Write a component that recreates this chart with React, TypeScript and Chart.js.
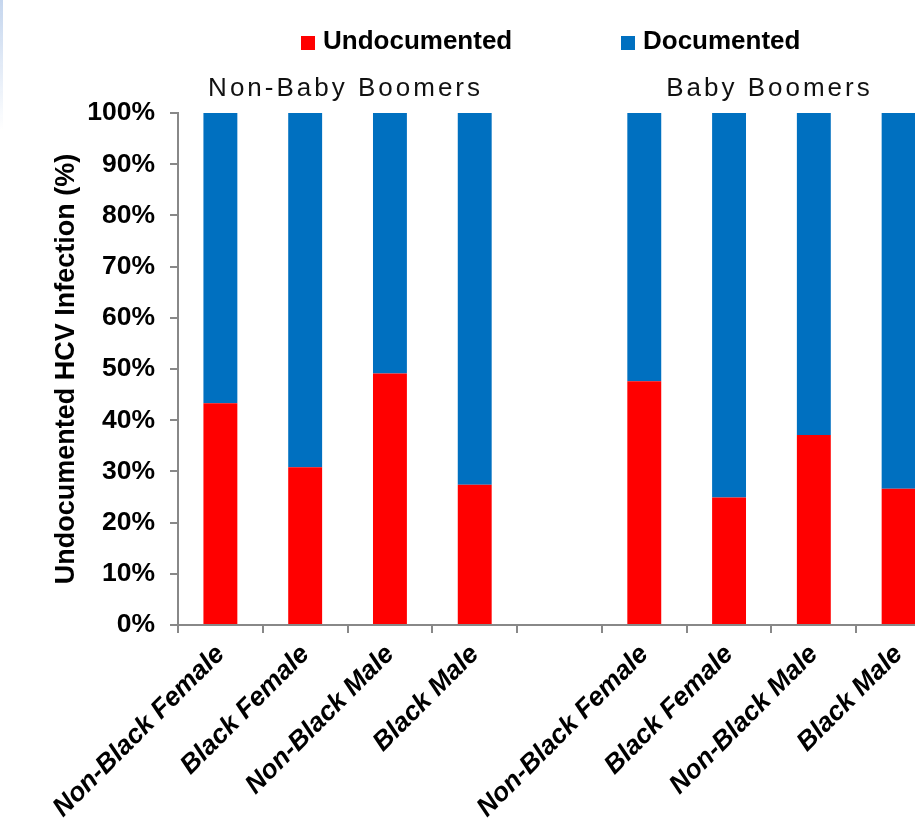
import React, { useEffect, useRef } from "react";
import { Chart, registerables } from "chart.js";

Chart.register(...registerables);

const categories = [
  "Non-Black Female",
  "Black Female",
  "Non-Black Male",
  "Black Male",
  "",
  "Non-Black Female",
  "Black Female",
  "Non-Black Male",
  "Black Male",
];
const undocumented = [43.3, 30.8, 49.1, 27.4, null, 47.6, 24.9, 37.1, 26.6];
const documented = [56.7, 69.2, 50.9, 72.6, null, 52.4, 75.1, 62.9, 73.4];
const seriesNames = ["Undocumented", "Documented"];
const seriesColors = ["#FF0000", "#0070C0"];
const groupNames = ["Non-Baby Boomers", "Baby Boomers"];
const groupMembers = [
  [0, 1, 2, 3],
  [5, 6, 7, 8],
];
const yAxisTitle = "Undocumented HCV Infection (%)";

const FONT = "'Liberation Sans', Arial, sans-serif";

const overlayPlugin = {
  id: "overlay",
  afterDraw(chart: any) {
    const ctx = chart.ctx;
    ctx.save();
    // legend
    const legendX = [301, 621];
    chart.data.datasets.forEach((ds: any, i: number) => {
      ctx.fillStyle = ds.backgroundColor;
      ctx.fillRect(legendX[i], 36, 14, 14);
      ctx.fillStyle = "#000";
      ctx.font = `bold 26px ${FONT}`;
      ctx.textAlign = "left";
      ctx.textBaseline = "middle";
      ctx.fillText(ds.label, legendX[i] + 22, 42);
    });
    // group labels
    const xs = chart.scales.x;
    ctx.font = `26px ${FONT}`;
    (ctx as any).letterSpacing = "3px";
    ctx.fillStyle = "#111";
    ctx.textAlign = "center";
    ctx.textBaseline = "middle";
    groupNames.forEach((name, g) => {
      const idx = groupMembers[g];
      const cx =
        idx.reduce((s, k) => s + xs.getPixelForValue(k), 0) / idx.length;
      ctx.fillText(name, cx - 2, 89);
    });
    ctx.restore();
  },
};

export default function App() {
  const ref = useRef<HTMLCanvasElement | null>(null);
  useEffect(() => {
    if (!ref.current) return;
    const chart = new Chart(ref.current, {
      type: "bar",
      data: {
        labels: categories,
        datasets: seriesNames.map((name, i) => ({
          label: name,
          data: i === 0 ? undocumented : documented,
          backgroundColor: seriesColors[i],
          borderWidth: 0,
          barPercentage: 0.4,
          categoryPercentage: 1,
        })),
      },
      options: {
        responsive: false,
        animation: false,
        layout: { padding: { top: 113, right: 19, left: 0, bottom: 0 } },
        plugins: {
          legend: { display: false },
          tooltip: { enabled: false },
          title: { display: false },
        },
        scales: {
          x: {
            stacked: true,
            grid: {
              display: true,
              drawOnChartArea: false,
              drawTicks: true,
              tickLength: 8,
              tickColor: "#888",
              lineWidth: 2,
              offset: true,
            },
            border: { display: true, color: "#888", width: 2 },
            ticks: {
              color: "#000",
              autoSkip: false,
              minRotation: 45,
              maxRotation: 45,
              padding: 6,
              font: { family: FONT, size: 26.5, weight: "bold", style: "italic" },
            },
            afterFit(scale: any) {
              scale.height = 203;
            },
          },
          y: {
            stacked: true,
            min: 0,
            max: 100,
            ticks: {
              stepSize: 10,
              color: "#000",
              padding: 15,
              font: { family: FONT, size: 26.5, weight: "bold" },
              callback: (v: any) => v + "%",
            },
            grid: {
              display: true,
              drawOnChartArea: false,
              drawTicks: true,
              tickLength: 8,
              tickColor: "#888",
              lineWidth: 2,
            },
            border: { display: true, color: "#888", width: 2 },
            title: {
              display: true,
              text: yAxisTitle,
              color: "#000",
              padding: { top: 50, bottom: 0 },
              font: { family: FONT, size: 27, weight: "bold" },
            },
            afterFit(scale: any) {
              scale.width = 178;
            },
          },
        },
      },
      plugins: [overlayPlugin],
    } as any);
    return () => chart.destroy();
  }, []);

  return (
    <div
      style={{
        position: "fixed",
        left: 0,
        top: 0,
        width: 915,
        height: 828,
        overflow: "hidden",
        background: "#fff",
      }}
    >
      <div
        style={{
          position: "absolute",
          left: 0,
          top: 0,
          width: 3,
          height: 130,
          background: "linear-gradient(#c5d6ee, rgba(255,255,255,0))",
        }}
      />
      <canvas ref={ref} width={960} height={828} style={{ display: "block" }} />
    </div>
  );
}
